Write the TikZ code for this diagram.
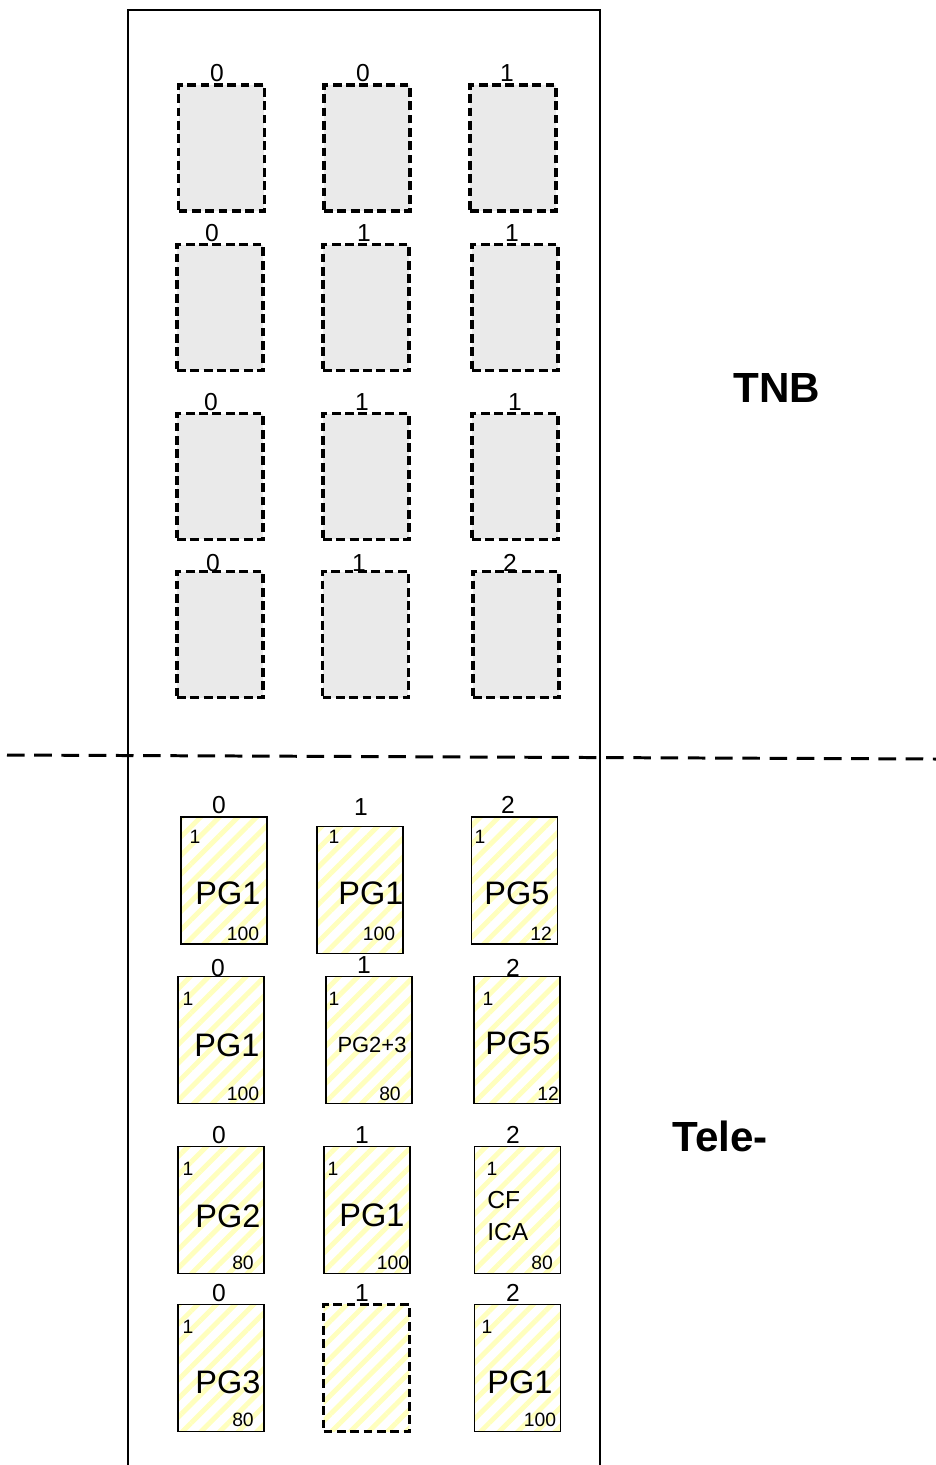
\documentclass[tikz,border=0pt]{standalone}
\usepackage{fontspec}
\setmainfont{Liberation Sans}
\usepackage{tikz}
\usetikzlibrary{patterns.meta}
\definecolor{slotgray}{RGB}{234,234,234}
\definecolor{stripeyellow}{RGB}{255,255,190}
\tikzset{
  slot/.style={draw, dash pattern=on 5pt off 2.6pt, line width=1.8pt, fill=slotgray, inner sep=0pt, minimum width=1.72cm, minimum height=2.52cm},
  card/.style={draw, line width=1.1pt, inner sep=0pt, minimum width=1.72cm, minimum height=2.54cm, pattern={Lines[angle=45,distance=7.5pt,line width=2.8pt]}, pattern color=stripeyellow},
  freecard/.style={card, draw=none, postaction={draw, dash pattern=on 5pt off 2.6pt, line width=1.8pt}},
  num/.style={inner sep=0pt, font=\fontsize{14}{16}\selectfont},
  corner/.style={inner sep=0pt, font=\fontsize{11}{13}\selectfont},
  pg/.style={inner sep=0pt, font=\fontsize{18.5}{22}\selectfont},
  title/.style={inner sep=0pt, font=\fontsize{24}{28}\selectfont\bfseries}
}
\begin{document}
\begin{tikzpicture}[x=0.02cm,y=-0.02cm]
  \useasboundingbox (0,0) rectangle (936,1465);
  \draw[line width=0.9pt] (128,1465) |- (600,10) -- (600,1465);
  \draw[line width=1.7pt, dash pattern=on 10pt off 5.5pt] (7,755) -- (936,759);
  \node[slot] (t11) at (221.5,148) {};
  \node[slot] (t12) at (367,148) {};
  \node[slot] (t13) at (513,148) {};
  \node[slot] (t21) at (220,307.5) {};
  \node[slot] (t22) at (366,307.5) {};
  \node[slot] (t23) at (515,307.5) {};
  \node[slot] (t31) at (220,476.5) {};
  \node[slot] (t32) at (366,476.5) {};
  \node[slot] (t33) at (515,476.5) {};
  \node[slot] (t41) at (220,634.5) {};
  \node[slot] (t42) at (365.5,634.5) {};
  \node[slot] (t43) at (516,634.5) {};
  \node[num] (n11) at (217,73) {0};
  \node[num] (n12) at (363,73) {0};
  \node[num] (n13) at (507,73) {1};
  \node[num] (n21) at (212,233) {0};
  \node[num] (n22) at (364,233) {1};
  \node[num] (n23) at (512,233) {1};
  \node[num] (n31) at (211,402) {0};
  \node[num] (n32) at (362,402) {1};
  \node[num] (n33) at (515,402) {1};
  \node[num] (n41) at (213,563) {0};
  \node[num] (n42) at (359,563) {1};
  \node[num] (n43) at (510,563) {2};
  \node[title] (tnb) at (777,388) {TNB};
  \node[card] (b11) at (224,880.5) {};
  \node[card] (b12) at (360,890) {};
  \node[card] (b13) at (514.5,880.5) {};
  \node[card] (b21) at (221,1040) {};
  \node[card] (b22) at (369,1040) {};
  \node[card] (b23) at (517,1040) {};
  \node[card] (b31) at (221,1210) {};
  \node[card] (b32) at (367,1210) {};
  \node[card] (b33) at (517.5,1210) {};
  \node[card] (b41) at (221,1368) {};
  \node[freecard] (b42) at (366.5,1368) {};
  \node[card] (b43) at (517.5,1368) {};
  \node[num] (m11) at (219,805) {0};
  \node[num] (m12) at (361,807) {1};
  \node[num] (m13) at (508,805) {2};
  \node[num] (m21) at (218,968) {0};
  \node[num] (m22) at (364,965) {1};
  \node[num] (m23) at (513,968) {2};
  \node[num] (m31) at (219,1135) {0};
  \node[num] (m32) at (362,1135) {1};
  \node[num] (m33) at (513,1135) {2};
  \node[num] (m41) at (219,1293) {0};
  \node[num] (m42) at (362,1293) {1};
  \node[num] (m43) at (513,1293) {2};
  \node[corner] (c11) at (195,837) {1};
  \node[pg] (p11) at (228,893) {PG1};
  \node[corner] (v11) at (243,934) {100};
  \node[corner] (c12) at (334,837) {1};
  \node[pg] (p12) at (371,893) {PG1};
  \node[corner] (v12) at (379,934) {100};
  \node[corner] (c13) at (480,837) {1};
  \node[pg] (p13) at (517,893) {PG5};
  \node[corner] (v13) at (541,934) {12};
  \node[corner] (c21) at (188,999) {1};
  \node[pg] (p21) at (227,1045) {PG1};
  \node[corner] (v21) at (243,1094) {100};
  \node[corner] (c22) at (334,999) {1};
  \node[pg, font=\fontsize{12.5}{15}\selectfont] (p22) at (372,1045) {PG2+3};
  \node[corner] (v22) at (390,1094) {80};
  \node[corner] (c23) at (488,999) {1};
  \node[pg] (p23) at (518,1043) {PG5};
  \node[corner] (v23) at (548,1094) {12};
  \node[corner] (c31) at (188,1169) {1};
  \node[pg] (p31) at (228,1216) {PG2};
  \node[corner] (v31) at (243,1263) {80};
  \node[corner] (c32) at (333,1169) {1};
  \node[pg] (p32) at (372,1215) {PG1};
  \node[corner] (v32) at (393,1263) {100};
  \node[corner] (c33) at (492,1169) {1};
  \node[pg, anchor=west, align=left, font=\fontsize{14}{18}\selectfont] (p33) at (487,1216) {CF\\ICA};
  \node[corner] (v33) at (542,1263) {80};
  \node[corner] (c41) at (188,1327) {1};
  \node[pg] (p41) at (228,1382) {PG3};
  \node[corner] (v41) at (243,1420) {80};
  \node[corner] (c43) at (487,1327) {1};
  \node[pg] (p43) at (520,1382) {PG1};
  \node[corner] (v43) at (540,1420) {100};
  \node[title] (tele) at (720,1136) {Tele-};
\end{tikzpicture}
\end{document}
